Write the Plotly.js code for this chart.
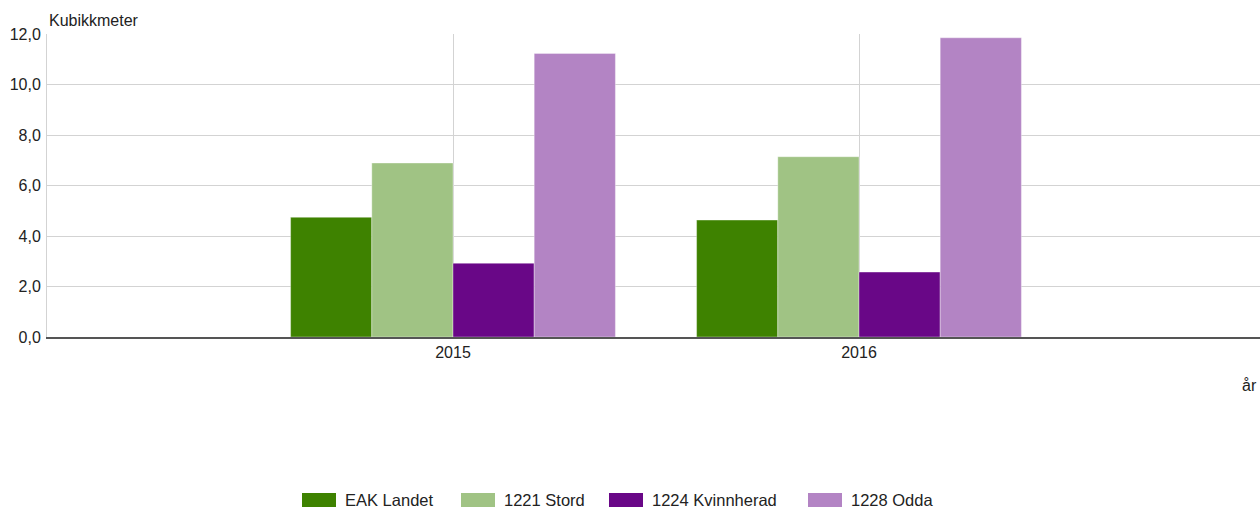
<!DOCTYPE html>
<html>
<head>
<meta charset="utf-8">
<script src="https://cdn.plot.ly/plotly-3.0.1.min.js"></script>
<style>
  html, body { margin: 0; padding: 0; overflow: hidden; background: #fff; }
  #chart { width: 1266px; height: 508px; }
</style>
</head>
<body>
<div id="chart"></div>
<script>
// ---- data ----
const years = ['2015', '2016'];
const seriesNames = ['EAK Landet', '1221 Stord', '1224 Kvinnherad', '1228 Odda'];
const eakLandet = [4.74, 4.63];
const stord = [6.89, 7.14];
const kvinnherad = [2.92, 2.57];
const odda = [11.23, 11.85];
const yTickValues = [0, 2, 4, 6, 8, 10, 12];

// ---- style ----
const colors = ['#3e8200', '#a0c384', '#690787', '#b384c4'];
const FONT = '"Liberation Sans", Arial, sans-serif';
const W = 1266, H = 508;
const M = { l: 47, r: 1, t: 34, b: 171 };
const plotW = W - M.l - M.r, plotH = H - M.t - M.b;
const px2x = p => (p - M.l) / plotW;
const px2y = p => (H - M.b - p) / plotH;

const values = [eakLandet, stord, kvinnherad, odda];
const traces = values.map((v, i) => ({
  type: 'bar',
  name: seriesNames[i],
  x: years,
  y: v,
  marker: { color: colors[i], line: { color: 'rgba(255,255,255,0.35)', width: 1 } },
  showlegend: false,
  hoverinfo: 'x+y+name'
}));

// custom legend (wide swatches like the reference)
const legendBoxX = [302, 461, 609, 808];
const shapes = [];
const annotations = [];
seriesNames.forEach((n, i) => {
  shapes.push({
    type: 'rect', xref: 'paper', yref: 'paper',
    x0: px2x(legendBoxX[i]), x1: px2x(legendBoxX[i] + 34),
    y0: px2y(507), y1: px2y(493),
    fillcolor: colors[i], line: { width: 0 }
  });
  annotations.push({
    xref: 'paper', yref: 'paper', x: px2x(legendBoxX[i] + 41), y: px2y(500),
    xanchor: 'left', yanchor: 'middle', showarrow: false, text: n,
    font: { family: FONT, size: 16.5, color: '#222' }
  });
});

annotations.push({
  xref: 'paper', yref: 'paper', x: 0, y: px2y(20), xanchor: 'left', yanchor: 'middle',
  xshift: 0, showarrow: false, text: 'Kubikkmeter',
  font: { family: FONT, size: 16, color: '#222' }
});
annotations.push({
  xref: 'paper', yref: 'paper', x: px2x(1259), y: px2y(385), xanchor: 'right', yanchor: 'middle',
  showarrow: false, text: 'år',
  font: { family: FONT, size: 16, color: '#222' }
});

const layout = {
  width: W, height: H,
  margin: M,
  paper_bgcolor: '#fff', plot_bgcolor: '#fff',
  separators: ',.',
  barmode: 'group', bargap: 0.2, bargroupgap: 0,
  font: { family: FONT, size: 16, color: '#222' },
  xaxis: {
    type: 'category', range: [-1, 2],
    showgrid: true, gridcolor: '#d3d3d3', gridwidth: 1,
    showline: true, linecolor: '#555', linewidth: 2,
    ticks: '', tickfont: { family: FONT, size: 16, color: '#222' },
    fixedrange: true
  },
  yaxis: {
    range: [0, 12], tickvals: yTickValues, tickformat: '.1f',
    showgrid: true, gridcolor: '#d3d3d3', gridwidth: 1,
    zeroline: false,
    showline: true, linecolor: '#d3d3d3', linewidth: 1,
    ticks: '', ticklabelstandoff: 2,
    tickfont: { family: FONT, size: 16, color: '#222' },
    fixedrange: true
  },
  shapes: shapes,
  annotations: annotations,
  showlegend: false
};

Plotly.newPlot('chart', traces, layout, { displayModeBar: false, staticPlot: false });
</script>
</body>
</html>
